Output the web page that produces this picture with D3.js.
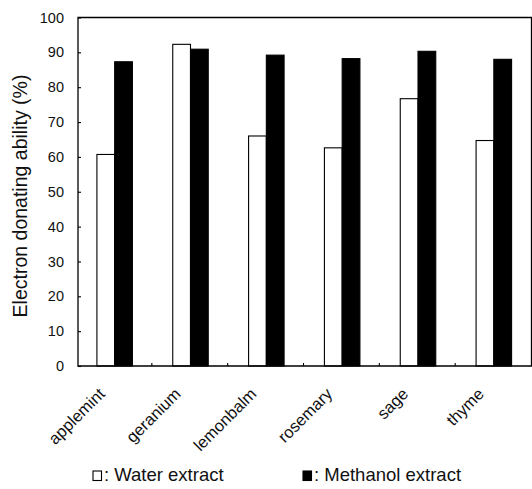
<!DOCTYPE html>
<html><head><meta charset="utf-8">
<script src="https://cdn.jsdelivr.net/npm/d3@7"></script>
<style>body{margin:0;background:#fff}svg{display:block}text{font-family:Arial,"Liberation Sans",sans-serif;fill:#111}</style>
</head><body>
<svg id="c" width="532" height="489"></svg>
<script>
const categories = ["applemint","geranium","lemonbalm","rosemary","sage","thyme"];
const waterExtract = [60.7, 92.3, 66.0, 62.6, 76.7, 64.7];
const methanolExtract = [87.3, 90.9, 89.2, 88.2, 90.3, 88.0];
const yTicks = [0,10,20,30,40,50,60,70,80,90,100];
const seriesNames = ["Water extract","Methanol extract"];

const svg = d3.select("#c");
const pLeft = 78, pRight = 531.5, pTop = 17.5, pBottom = 366;

const y = d3.scaleLinear().domain([0,100]).range([pBottom, pTop]);
const x0 = d3.scaleBand().domain(categories).range([76, 531]).paddingInner(0).paddingOuter(0);
const x1 = d3.scaleBand().domain(seriesNames).range([-17, 18.5]).padding(0);

const data = categories.map((c,i)=>({cat:c, vals:[
  {s:seriesNames[0], v:waterExtract[i]},
  {s:seriesNames[1], v:methanolExtract[i]}]}));

// bars
const g = svg.append("g");
g.selectAll("g.grp").data(data).join("g")
  .attr("transform", d=>`translate(${x0(d.cat)+x0.bandwidth()/2},0)`)
  .selectAll("rect").data(d=>d.vals).join("rect")
  .attr("x", d=>x1(d.s))
  .attr("width", x1.bandwidth())
  .attr("y", d=>y(d.v))
  .attr("height", d=>y(0)-y(d.v))
  .attr("fill", d=>d.s===seriesNames[0] ? "#fff" : "#000")
  .attr("stroke", "#000").attr("stroke-width", 1.1);

// frame
svg.append("path")
  .attr("d", `M${pLeft},${pTop}H${pRight}V${pBottom}H${pLeft}Z`)
  .attr("fill","none").attr("stroke","#000").attr("stroke-width",1.3);

// y axis (ticks inward)
const yAxis = d3.axisLeft(y).tickValues(yTicks).tickSize(-3).tickPadding(14);
const ya = svg.append("g").attr("transform",`translate(${pLeft},0)`).call(yAxis);
ya.select(".domain").remove();
ya.selectAll(".tick line").attr("stroke","#000").attr("stroke-width",1.1);
ya.selectAll(".tick text").attr("font-size","14.5px").attr("font-family","Arial, 'Liberation Sans', sans-serif").attr("fill","#111");

// x axis: ticks at group boundaries pointing up
const bounds = categories.slice(1).map(c=>x0(c));
svg.append("g").selectAll("line").data(bounds).join("line")
  .attr("x1",d=>d).attr("x2",d=>d).attr("y1",pBottom).attr("y2",pBottom-3)
  .attr("stroke","#000").attr("stroke-width",1.1);

// category labels
svg.append("g").selectAll("text").data(categories).join("text")
  .attr("transform", d=>`translate(${x0(d)+x0.bandwidth()/2-8},395) rotate(-45)`)
  .attr("text-anchor","end")
  .attr("font-size","16.5px")
  .text(d=>d);

// y label
svg.append("text")
  .attr("transform",`translate(27,196) rotate(-90)`)
  .attr("text-anchor","middle")
  .attr("font-size","19.5px")
  .text("Electron donating ability (%)");

// legend
const leg = [{s:seriesNames[0], x:93, fill:"#fff"},{s:seriesNames[1], x:303, fill:"#000"}];
const lg = svg.append("g").selectAll("g").data(leg).join("g")
  .attr("transform", d=>`translate(${d.x},0)`);
lg.append("rect").attr("x",0).attr("y",471).attr("width",8.5).attr("height",9.5)
  .attr("fill",d=>d.fill).attr("stroke","#000").attr("stroke-width",1.1);
lg.append("text").attr("x",11).attr("y",481).attr("font-size","18.5px").text(d=>": "+d.s);
</script>
</body></html>
